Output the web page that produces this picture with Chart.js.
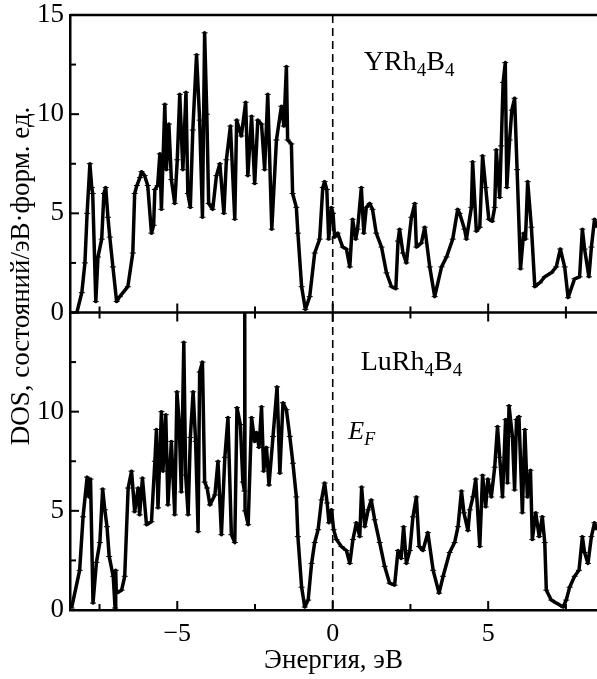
<!DOCTYPE html>
<html>
<head>
<meta charset="utf-8">
<script src="https://cdn.jsdelivr.net/npm/chart.js@4.4.1/dist/chart.umd.min.js"></script>
<style>
html, body { margin: 0; padding: 0; background: #fff; }
canvas { display: block; }
</style>
</head>
<body>
<canvas id="dosChart" width="597" height="679"></canvas>
<script>
// YRh4B4 (upper panel)
var energyY = [-8.23, -8.07, -7.97, -7.9, -7.81, -7.75, -7.72, -7.62, -7.55, -7.43, -7.36, -7.3, -7.23, -7.17, -7.07, -6.95, -6.85, -6.59, -6.43, -6.37,
    -6.3, -6.2, -6.15, -6.05, -5.95, -5.83, -5.76, -5.72, -5.63, -5.56, -5.51, -5.4, -5.35, -5.27, -5.19, -5.08, -5.0, -4.92, -4.82, -4.72,
    -4.66, -4.58, -4.5, -4.38, -4.28, -4.19, -4.12, -4.05, -3.99, -3.86, -3.74, -3.63, -3.5, -3.42, -3.29, -3.15, -3.09, -2.94, -2.8, -2.73,
    -2.61, -2.51, -2.41, -2.29, -2.19, -2.09, -1.96, -1.81, -1.65, -1.57, -1.49, -1.45, -1.33, -1.29, -1.17, -1.12, -1.0, -0.88, -0.74, -0.58,
    -0.42, -0.32, -0.26, -0.19, -0.13, -0.04, 0.01, 0.06, 0.16, 0.32, 0.44, 0.55, 0.64, 0.74, 0.8, 0.92, 1.0, 1.08, 1.19, 1.28,
    1.4, 1.57, 1.73, 1.89, 2.03, 2.1, 2.15, 2.26, 2.37, 2.53, 2.64, 2.69, 2.85, 2.96, 3.12, 3.28, 3.5, 3.66, 3.86, 4.02,
    4.08, 4.24, 4.3, 4.46, 4.5, 4.62, 4.73, 4.82, 4.92, 5.02, 5.13, 5.21, 5.26, 5.37, 5.42, 5.48, 5.55, 5.6, 5.69, 5.76,
    5.85, 5.93, 6.04, 6.14, 6.2, 6.27, 6.39, 6.5, 6.66, 6.82, 7.03, 7.19, 7.32, 7.46, 7.57, 7.78, 7.94, 8.03, 8.1, 8.24,
    8.32, 8.42, 8.5];
var dosY = [0, 1.0, 2.5, 5.0, 7.5, 6.3, 6.0, 0.55, 2.8, 3.7, 6.0, 6.3, 4.8, 3.8, 2.3, 0.55, 0.8, 1.3, 3.0, 6.0,
    6.4, 6.8, 7.1, 6.9, 6.4, 4.0, 4.4, 6.2, 6.4, 8.0, 5.2, 10.5, 7.2, 9.5, 6.7, 5.5, 7.7, 11.0, 7.2, 11.1,
    6.0, 5.3, 9.2, 13.0, 9.7, 4.8, 14.1, 10.0, 5.5, 5.2, 6.9, 7.5, 5.0, 7.7, 9.4, 4.7, 9.7, 8.9, 10.6, 6.9,
    9.9, 6.5, 9.7, 9.5, 7.2, 11.0, 4.2, 8.7, 10.4, 9.4, 12.4, 8.7, 8.5, 6.0, 5.3, 4.0, 1.3, 0.15, 0.8, 3.0,
    3.7, 6.3, 6.6, 6.2, 3.7, 5.3, 5.0, 3.8, 4.0, 3.3, 3.2, 2.3, 4.7, 3.7, 4.2, 6.3, 4.0, 5.3, 5.5, 5.2,
    4.0, 3.3, 2.0, 1.3, 1.2, 3.6, 4.2, 3.0, 2.5, 4.8, 5.5, 3.3, 3.5, 4.3, 2.3, 0.8, 2.3, 2.8, 3.7, 5.2,
    5.0, 4.2, 3.7, 5.3, 7.6, 4.1, 4.3, 7.9, 6.3, 4.7, 4.6, 5.3, 8.2, 5.8, 8.4, 11.6, 12.6, 6.3, 8.7, 10.2,
    10.8, 7.2, 2.2, 4.0, 3.7, 6.6, 4.3, 1.3, 1.5, 1.8, 2.0, 2.3, 3.2, 2.3, 0.75, 1.7, 1.8, 4.2, 3.2, 1.8,
    3.3, 4.7, 4.3];

// LuRh4B4 (lower panel)
var energyLu = [-8.4, -8.14, -8.03, -7.9, -7.84, -7.79, -7.71, -7.6, -7.49, -7.4, -7.33, -7.26, -7.19, -7.06, -7.0, -6.98, -6.96, -6.79, -6.69, -6.58,
    -6.47, -6.37, -6.26, -6.21, -6.12, -5.99, -5.83, -5.72, -5.67, -5.62, -5.51, -5.46, -5.37, -5.3, -5.19, -5.08, -5.01, -4.94, -4.87, -4.79,
    -4.73, -4.65, -4.58, -4.49, -4.41, -4.33, -4.28, -4.19, -4.12, -4.04, -3.95, -3.79, -3.69, -3.58, -3.47, -3.37, -3.26, -3.15, -3.08, -2.97,
    -2.89, -2.84, -2.83, -2.82, -2.72, -2.61, -2.51, -2.45, -2.37, -2.29, -2.22, -2.13, -2.05, -1.92, -1.79, -1.7, -1.6, -1.49, -1.38, -1.28,
    -1.17, -1.12, -1.0, -0.9, -0.79, -0.68, -0.58, -0.47, -0.36, -0.26, -0.18, -0.12, -0.04, 0.03, 0.12, 0.28, 0.44, 0.55, 0.65, 0.76,
    0.87, 0.93, 1.03, 1.14, 1.24, 1.35, 1.51, 1.67, 1.83, 1.99, 2.1, 2.2, 2.28, 2.37, 2.48, 2.58, 2.69, 2.78, 2.9, 3.06,
    3.23, 3.42, 3.55, 3.76, 3.92, 4.03, 4.14, 4.22, 4.35, 4.41, 4.51, 4.6, 4.73, 4.82, 4.92, 4.99, 5.1, 5.21, 5.3, 5.37,
    5.46, 5.56, 5.62, 5.67, 5.78, 5.85, 5.91, 5.99, 6.1, 6.18, 6.26, 6.36, 6.42, 6.53, 6.64, 6.74, 6.82, 6.87, 7.03, 7.19,
    7.41, 7.51, 7.62, 7.78, 7.92, 8.03, 8.1, 8.21, 8.32, 8.42, 8.5];
var dosLu = [0.1, 2.0, 4.7, 6.7, 5.7, 6.6, 0.35, 2.4, 3.4, 6.1, 5.05, 4.2, 2.7, 1.7, 0.1, 2.0, 0.85, 1.0, 1.7, 6.15,
    7.0, 4.95, 6.15, 4.8, 6.65, 4.3, 4.45, 7.5, 9.1, 5.15, 10.0, 7.0, 9.85, 5.3, 8.5, 4.8, 11.0, 9.5, 5.95, 13.5,
    6.8, 4.8, 8.7, 11.0, 8.5, 3.95, 12.0, 12.5, 6.45, 6.15, 5.3, 5.8, 7.5, 3.8, 7.7, 9.7, 3.8, 3.4, 10.2, 9.35,
    6.45, 6.0, 15.0, 5.0, 4.3, 9.7, 8.5, 8.95, 8.2, 10.25, 7.0, 8.2, 6.3, 8.75, 11.25, 6.9, 10.45, 10.1, 8.75, 7.4,
    5.7, 3.7, 1.15, 0.15, 0.5, 2.35, 3.4, 4.05, 5.55, 6.4, 5.4, 4.4, 5.05, 4.05, 3.55, 3.2, 3.0, 2.35, 3.55, 4.4,
    3.7, 6.2, 4.2, 5.05, 5.55, 4.55, 3.4, 2.2, 1.35, 1.25, 3.0, 2.6, 4.2, 2.35, 3.0, 4.7, 5.7, 3.2, 3.0, 3.9,
    2.0, 0.85, 1.7, 2.9, 3.4, 4.2, 6.0, 4.9, 4.0, 5.05, 5.7, 6.6, 3.2, 6.8, 5.2, 6.6, 5.7, 7.2, 9.25, 7.7,
    5.7, 9.6, 6.4, 10.3, 8.75, 6.05, 9.6, 9.75, 4.9, 9.1, 5.7, 7.05, 3.55, 4.9, 3.7, 4.7, 3.4, 1.0, 0.5, 0.35,
    0.15, 0.5, 1.15, 1.7, 2.0, 3.7, 2.9, 2.35, 3.7, 4.4, 4.05];

var xTickValues = [-5, 0, 5];
var xTickLabels = ['\u22125', '0', '5'];
var xMinorTicks = [-7.5, -2.5, 2.5, 7.5];
var yTickValues = [0, 5, 10, 15];
var yMinorTicks = [2.5, 7.5, 12.5];

var serif = "'Liberation Serif', 'Times New Roman', serif";

function toPoints(xs, ys) {
    var pts = [];
    for (var i = 0; i < xs.length; i++) {
        pts.push({x: xs[i], y: ys[i]});
    }
    return pts;
}

function drawFormula(ctx, parts, x, y, size, italic) {
    var cx = x;
    parts.forEach(function (p) {
        var sz = p.sub ? Math.round(size * 0.68) : size;
        ctx.font = (italic ? 'italic ' : '') + sz + 'px ' + serif;
        ctx.fillText(p.t, cx, p.sub ? y + size * 0.22 : y);
        cx += ctx.measureText(p.t).width;
    });
}

var framePlugin = {
    id: 'frame',
    afterDatasetsDraw: function (chart) {
        var ctx = chart.ctx;
        var area = chart.chartArea;
        var xs = chart.scales.x;
        var yt = chart.scales.yTop;
        var yb = chart.scales.yBot;

        ctx.save();
        ctx.strokeStyle = '#000';
        ctx.lineWidth = 2.5;
        ctx.lineCap = 'butt';

        function seg(x1, y1, x2, y2) {
            ctx.beginPath();
            ctx.moveTo(x1, y1);
            ctx.lineTo(x2, y2);
            ctx.stroke();
        }

        // panel frames (top edge and the shared edge)
        seg(area.left, yt.getPixelForValue(15), area.right, yt.getPixelForValue(15));
        seg(area.left, yt.getPixelForValue(0), area.right, yt.getPixelForValue(0));

        // inward ticks
        ctx.lineWidth = 2;
        [yt, yb].forEach(function (s) {
            yTickValues.forEach(function (v) { var p = s.getPixelForValue(v); seg(area.left, p, area.left + 9, p); });
            yMinorTicks.forEach(function (v) { var p = s.getPixelForValue(v); seg(area.left, p, area.left + 6, p); });
        });
        var edges = [[yt.getPixelForValue(0), -1], [yb.getPixelForValue(15), 1], [yb.getPixelForValue(0), -1]];
        edges.forEach(function (e) {
            xTickValues.forEach(function (v) { var p = xs.getPixelForValue(v); seg(p, e[0], p, e[0] + e[1] * 9); });
            xMinorTicks.forEach(function (v) { var p = xs.getPixelForValue(v); seg(p, e[0], p, e[0] + e[1] * 6); });
        });

        // Fermi level
        ctx.lineWidth = 1.6;
        ctx.setLineDash([8, 5]);
        var x0 = xs.getPixelForValue(0);
        seg(x0, area.top, x0, area.bottom);
        ctx.setLineDash([]);

        // labels
        ctx.fillStyle = '#000';
        ctx.textAlign = 'left';
        ctx.textBaseline = 'alphabetic';
        drawFormula(ctx, [{t: 'YRh'}, {t: '4', sub: true}, {t: 'B'}, {t: '4', sub: true}],
            xs.getPixelForValue(1.0), yt.getPixelForValue(12.25), 28, false);
        drawFormula(ctx, [{t: 'LuRh'}, {t: '4', sub: true}, {t: 'B'}, {t: '4', sub: true}],
            xs.getPixelForValue(0.9), yb.getPixelForValue(12.1), 28, false);
        drawFormula(ctx, [{t: 'E'}, {t: 'F', sub: true}],
            xs.getPixelForValue(0.5), yb.getPixelForValue(8.6), 26, true);

        // common y title
        ctx.translate(22, 276);
        ctx.rotate(-Math.PI / 2);
        ctx.textAlign = 'center';
        ctx.textBaseline = 'middle';
        ctx.font = '27px ' + serif;
        ctx.fillText('DOS, состояний/эВ\u00b7форм. ед.', 0, 0);
        ctx.restore();
    }
};

function yAxis(showTop) {
    return {
        type: 'linear',
        position: 'left',
        stack: 'dos',
        stackWeight: 1,
        min: 0,
        max: 15,
        afterFit: function (scale) {
            scale.width = 70;
            scale.paddingTop = 0;
            scale.paddingBottom = 0;
        },
        afterBuildTicks: function (scale) {
            scale.ticks = yTickValues.map(function (v) { return {value: v}; });
        },
        grid: { display: false, drawTicks: false },
        border: { display: true, color: '#000', width: 2.5 },
        ticks: {
            padding: 6,
            color: '#000',
            font: { family: serif, size: 27 },
            callback: function (v) { return (v === 15 && !showTop) ? '' : String(v); }
        }
    };
}

var ctx = document.getElementById('dosChart').getContext('2d');
var dosChart = new Chart(ctx, {
    type: 'line',
    data: {
        datasets: [{
            label: 'YRh4B4',
            data: toPoints(energyY, dosY),
            yAxisID: 'yTop',
            borderColor: '#000',
            borderWidth: 3.5,
            borderJoinStyle: 'round',
            tension: 0,
            pointStyle: 'line',
            pointRadius: 3,
            pointBorderWidth: 1,
            pointBorderColor: '#000',
            fill: false
        }, {
            label: 'LuRh4B4',
            data: toPoints(energyLu, dosLu),
            yAxisID: 'yBot',
            borderColor: '#000',
            borderWidth: 3.5,
            borderJoinStyle: 'round',
            tension: 0,
            pointStyle: 'line',
            pointRadius: 3,
            pointBorderWidth: 1,
            pointBorderColor: '#000',
            fill: false
        }]
    },
    options: {
        responsive: false,
        animation: false,
        layout: { autoPadding: false, padding: { left: 0, right: 0, top: 15, bottom: 0 } },
        plugins: { legend: { display: false }, tooltip: { enabled: false } },
        scales: {
            x: {
                type: 'linear',
                position: 'bottom',
                min: -8.45,
                max: 8.5,
                afterFit: function (scale) {
                    scale.height = 69;
                    scale.paddingLeft = 0;
                    scale.paddingRight = 0;
                },
                afterBuildTicks: function (scale) {
                    scale.ticks = xTickValues.map(function (v) { return {value: v}; });
                },
                grid: { display: false, drawTicks: false },
                border: { display: true, color: '#000', width: 2.5 },
                ticks: {
                    padding: 9,
                    color: '#000',
                    maxRotation: 0,
                    font: { family: serif, size: 26 },
                    callback: function (v) { return xTickLabels[xTickValues.indexOf(v)]; }
                },
                title: {
                    display: true,
                    text: 'Энергия, эВ',
                    color: '#000',
                    font: { family: serif, size: 27 },
                    padding: { top: 0, bottom: 2 }
                }
            },
            yBot: yAxis(false),
            yTop: yAxis(true)
        }
    },
    plugins: [framePlugin]
});
</script>
</body>
</html>
